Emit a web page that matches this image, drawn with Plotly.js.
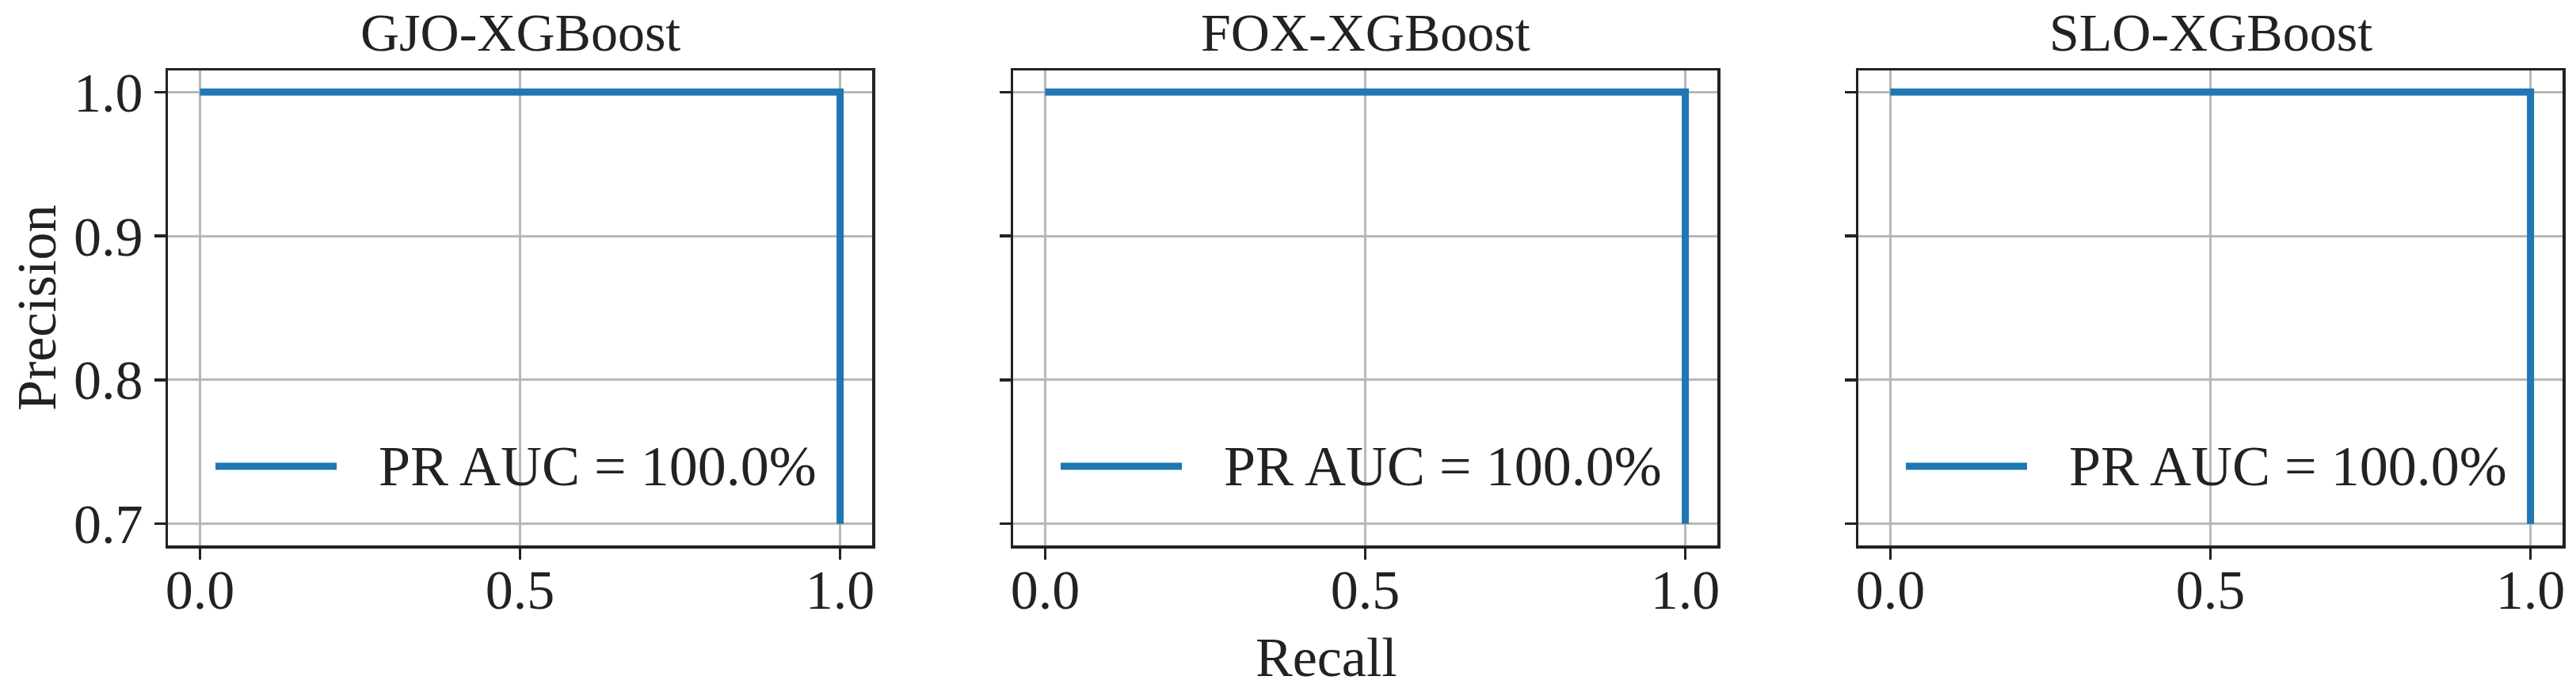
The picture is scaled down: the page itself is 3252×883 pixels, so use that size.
<!DOCTYPE html>
<html>
<head>
<meta charset="utf-8">
<script src="https://cdn.plot.ly/plotly-3.0.1.min.js"></script>
<style>
  html, body { margin: 0; padding: 0; background: #fff; }
  #grafica { width: 3252px; height: 883px; }
</style>
</head>
<body>
<div id="grafica"></div>
<script>
// datos
const modelos = ['GJO-XGBoost', 'FOX-XGBoost', 'SLO-XGBoost'];
const recall = [0, 1, 1];
const precisionGJO = [1, 1, 0.7];
const precisionFOX = [1, 1, 0.7];
const precisionSLO = [1, 1, 0.7];
const etiquetasAUC = ['PR AUC = 100.0%', 'PR AUC = 100.0%', 'PR AUC = 100.0%'];
const ticksX = [0, 0.5, 1];
const ticksY = [0.7, 0.8, 0.9, 1.0];

const FUENTE = 'Liberation Serif, Times New Roman, serif';
const NEGRO = '#222222';
const AZUL = '#1f77b4';
const TAM = 70;

const W = 3252, H = 883;
const DOMINIOS_X = [[212, 1101], [1279, 2168], [2346, 3235]].map(d => [d[0] / W, d[1] / W]);
const DOMINIO_Y = [1 - 689 / H, 1 - 89 / H];

const precisiones = [precisionGJO, precisionFOX, precisionSLO];

let datos = precisiones.map((p, i) => ({
    type: 'scatter',
    mode: 'lines',
    x: recall,
    y: p,
    name: etiquetasAUC[i],
    line: {color: AZUL, width: 9},
    xaxis: i == 0 ? 'x' : 'x' + (i + 1),
    yaxis: i == 0 ? 'y' : 'y' + (i + 1),
    showlegend: false
}));

function ejeX(i) {
    return {
        domain: DOMINIOS_X[i],
        range: [-0.05, 1.05],
        tickvals: ticksX,
        ticktext: ticksX.map(v => v.toFixed(1)),
        ticks: 'outside', ticklen: 14, tickwidth: 3.5, tickcolor: NEGRO,
        ticklabelstandoff: -22,
        showline: true, mirror: true, linecolor: NEGRO, linewidth: 3.5,
        showgrid: true, gridcolor: '#b8b8b8', gridwidth: 3,
        zeroline: false,
        tickfont: {family: FUENTE, size: TAM, color: NEGRO},
        anchor: i == 0 ? 'y' : 'y' + (i + 1),
        fixedrange: true
    };
}

function ejeY(i) {
    return {
        domain: DOMINIO_Y,
        range: [0.685, 1.015],
        tickvals: ticksY,
        ticktext: ticksY.map(v => v.toFixed(1)),
        showticklabels: i == 0,
        ticks: 'outside', ticklen: 14, tickwidth: 3.5, tickcolor: NEGRO,
        showline: true, mirror: true, linecolor: NEGRO, linewidth: 3.5,
        showgrid: true, gridcolor: '#b8b8b8', gridwidth: 3,
        zeroline: false,
        tickfont: {family: FUENTE, size: TAM, color: NEGRO},
        anchor: i == 0 ? 'x' : 'x' + (i + 1),
        fixedrange: true
    };
}

let anotaciones = modelos.map((m, i) => ({
    text: m,
    xref: 'paper', yref: 'paper',
    x: (DOMINIOS_X[i][0] + DOMINIOS_X[i][1]) / 2,
    y: 1 - 41 / H,
    xanchor: 'center', yanchor: 'middle',
    showarrow: false,
    font: {family: FUENTE, size: 68, color: NEGRO}
}));
anotaciones.push({
    text: 'Recall',
    xref: 'paper', yref: 'paper',
    x: 1675 / W, y: 1 - 830 / H,
    xanchor: 'center', yanchor: 'middle',
    showarrow: false,
    font: {family: FUENTE, size: TAM, color: NEGRO}
});
anotaciones.push({
    text: 'Precision',
    xref: 'paper', yref: 'paper',
    x: 46 / W, y: 1 - 389 / H,
    xanchor: 'center', yanchor: 'middle',
    textangle: -90,
    showarrow: false,
    font: {family: FUENTE, size: TAM, color: NEGRO}
});

// leyenda de cada panel: linea de muestra + texto
let formas = [];
const yLeyenda = 1 - 589 / H;
for (let i = 0; i < 3; i++) {
    let desplazamiento = DOMINIOS_X[i][0] - DOMINIOS_X[0][0];
    formas.push({
        type: 'line', xref: 'paper', yref: 'paper',
        x0: 272 / W + desplazamiento, x1: 425 / W + desplazamiento,
        y0: yLeyenda, y1: yLeyenda,
        line: {color: datos[i].line.color, width: 9}
    });
    anotaciones.push({
        text: datos[i].name,
        xref: 'paper', yref: 'paper',
        x: 1033 / W + desplazamiento, y: yLeyenda,
        xanchor: 'right', yanchor: 'middle',
        showarrow: false,
        font: {family: FUENTE, size: 72, color: NEGRO}
    });
}

let layout = {
    width: W, height: H,
    margin: {l: 0, r: 0, t: 0, b: 0},
    paper_bgcolor: '#ffffff',
    plot_bgcolor: '#ffffff',
    font: {family: FUENTE, size: TAM, color: NEGRO},
    annotations: anotaciones,
    shapes: formas,
    showlegend: false
};

for (let i = 0; i < 3; i++) {
    let sufijo = i == 0 ? '' : String(i + 1);
    layout['xaxis' + sufijo] = ejeX(i);
    layout['yaxis' + sufijo] = ejeY(i);
}

Plotly.newPlot(document.getElementById('grafica'), datos, layout, {displayModeBar: false, staticPlot: true});
</script>
</body>
</html>
